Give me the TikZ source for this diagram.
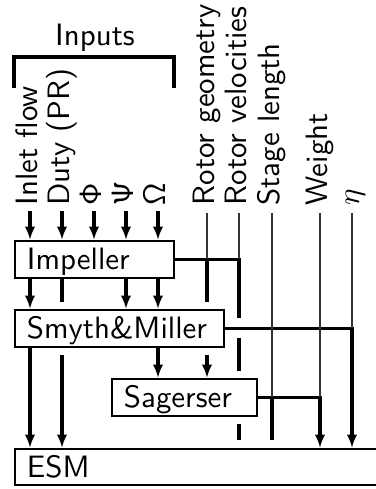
\RequirePackage{fix-cm}
\documentclass[tikz,border=0pt]{standalone}
\usetikzlibrary{arrows.meta,calc}
\pgfdeclarelayer{lone}
\pgfdeclarelayer{ltwo}
\pgfdeclarelayer{lthree}
\pgfdeclarelayer{lfour}
\pgfsetlayers{lone,ltwo,lthree,lfour,main}
\begin{document}
\begin{tikzpicture}[x=0.33333pt,y=-0.33333pt,
  every node/.style={font=\fontsize{10.3}{12.4}\selectfont\sffamily, inner sep=0pt},
  box/.style={draw, line width=0.65pt, fill=white, anchor=north west, inner xsep=4pt,
    text height=7pt, text depth=0pt, align=left, minimum height=12.33pt},
  halo/.style={preaction={draw=white, line width=5.33pt}},
  lab/.style={rotate=90, anchor=west, text height=7pt, text depth=2.33pt},
  thk/.style={line width=1.1pt},
  arr/.style={thk, -{Latex[length=4.5pt,width=3.5pt]}},
  thinln/.style={line width=0.35pt, black!80},
]
\useasboundingbox (0,0) rectangle (376,489);

% boxes
\node[box, text width=45pt] (imp) at (14,240) {Impeller};
\node[box, text width=133pt, minimum height=12pt] (esm) at (14,448) {ESM};
\begin{pgfonlayer}{ltwo}
\node[box, halo, text width=40.33pt] (sag) at (111,378) {Sagerser};
\end{pgfonlayer}
\begin{pgfonlayer}{lfour}
\node[box, halo, text width=61.67pt] (smy) at (14,309) {Smyth\&Miller};
\end{pgfonlayer}

% input labels
\node[anchor=base] (inp) at (95,45) {Inputs};
\node[lab] (lIn) at (30,206) {Inlet flow};
\node[lab] (lDu) at (62,206) {Duty (PR)};
\node[lab] (lPh) at (94,206) {$\mathsf{\Phi}$};
\node[lab] (lPs) at (126,206) {$\mathsf{\Psi}$};
\node[lab] (lOm) at (158,206) {$\mathsf{\Omega}$};
% output labels
\node[lab] (lRg) at (207,206) {Rotor geometry};
\node[lab] (lRv) at (239,206) {Rotor velocities};
\node[lab] (lSl) at (272,206) {Stage length};
\node[lab] (lWe) at (320,206) {Weight};
\node[lab] (lEt) at (352,206) {$\eta$};

% bracket over the inputs
\draw[line width=1.1pt] (14,88) -- (14,57) -- (174,57) -- (174,88);

% lines passing behind boxes
\begin{pgfonlayer}{lone}
\draw[thk, shorten >=2.67pt] (imp.east) -| (esm.north -| lRv.west);
\end{pgfonlayer}
\begin{pgfonlayer}{lthree}
\draw[arr] (imp.east -| lRg.west) -- (sag.north -| lRg.west);
\draw[arr] (imp.south -| lDu.west) -- (esm.north -| lDu.west);
\end{pgfonlayer}

% input arrows
\foreach \n in {lIn,lDu,lPh,lPs,lOm}
  \draw[arr, shorten <=1.67pt] (\n.west) -- (imp.north -| \n.west);

% impeller -> smyth
\foreach \n in {lIn,lPs,lOm}
  \draw[arr] (imp.south -| \n.west) -- (smy.north -| \n.west);

% smyth outputs
\draw[arr] (smy.south -| lIn.west) -- (esm.north -| lIn.west);
\draw[arr] (smy.south -| lOm.west) -- (sag.north -| lOm.west);
\draw[white, line width=6.67pt, shorten <=3pt] (smy.east) -- (smy.east -| lEt.west);
\draw[arr] (smy.east) -| (esm.north -| lEt.west);

% sagerser outputs
\draw[arr] (sag.east) -| (esm.north -| lWe.west);
\draw[thk, shorten >=2.67pt] (sag.east -| lSl.west) -- (esm.north -| lSl.west);

% thin lines from output labels
\draw[thinln, shorten <=2.33pt] (lRg.west) -- (imp.east -| lRg.west);
\draw[thinln, shorten <=2.33pt] (lRv.west) -- (imp.east -| lRv.west);
\draw[thinln, shorten <=2.33pt] (lSl.west) -- (sag.east -| lSl.west);
\draw[thinln, shorten <=2.33pt] (lWe.west) -- (sag.east -| lWe.west);
\draw[thinln, shorten <=2.33pt] (lEt.west) -- (smy.east -| lEt.west);
\end{tikzpicture}
\end{document}
